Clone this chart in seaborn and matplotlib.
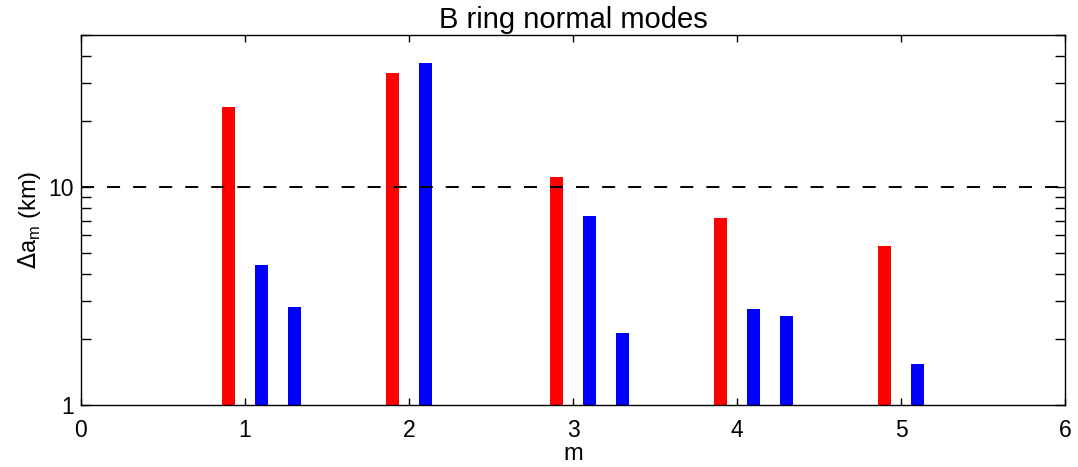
import pandas as pd
import seaborn as sns
import matplotlib.pyplot as plt
from matplotlib.ticker import LogLocator, FixedLocator, NullFormatter

# Mode positions and amplitudes
positions = [0.9, 1.1, 1.3, 1.9, 2.1, 2.9, 3.1, 3.3, 3.9, 4.1, 4.3, 4.9, 5.1]
amplitudes = [23.2, 4.37, 2.82, 33.3, 37.1, 11.1, 7.32, 2.14, 7.24, 2.77, 2.55, 5.38, 1.54]
kinds = ['red', 'blue', 'blue', 'red', 'blue', 'red', 'blue', 'blue',
         'red', 'blue', 'blue', 'red', 'blue']
x_ticks = [0, 1, 2, 3, 4, 5, 6]
y_ticks = [1, 10]

df = pd.DataFrame({'m': positions, 'da': amplitudes, 'kind': kinds})

sns.set_style('white')
plt.rcParams['font.family'] = ['Liberation Sans', 'DejaVu Sans']
plt.rcParams['text.color'] = 'black'
plt.rcParams['axes.labelcolor'] = 'black'

fig = plt.figure(figsize=(10.78, 4.67), dpi=100)
ax = fig.add_axes([0.0751, 0.1328, 0.9129, 0.7932])
ax.set_yscale('log')

sns.barplot(data=df, x='m', y='da', hue='kind', dodge=False, native_scale=True,
            palette={'red': '#ff0000', 'blue': '#0000ff'}, width=0.4,
            saturation=1, linewidth=0, legend=False, ax=ax)

# 10 km reference level
ax.axhline(10, color='black', linestyle=(0, (6.7, 6.7)), linewidth=1.4)

ax.set_xlim(0, 6)
ax.set_ylim(1, 50)
ax.xaxis.set_major_locator(FixedLocator(x_ticks))
ax.set_xticklabels([str(t) for t in x_ticks])
ax.yaxis.set_major_locator(FixedLocator(y_ticks))
ax.set_yticklabels([str(t) for t in y_ticks])
ax.yaxis.set_minor_locator(LogLocator(base=10, subs=range(2, 10)))
ax.yaxis.set_minor_formatter(NullFormatter())

ax.tick_params(axis='both', which='both', direction='in', top=True, right=True,
               left=True, bottom=True, labelsize=16.5, colors='black', width=1)
ax.tick_params(axis='x', which='major', length=5, pad=10)
ax.tick_params(axis='y', which='both', length=7.5, pad=5)
ax.tick_params(axis='x', which='minor', length=0)

for s in ax.spines.values():
    s.set_color('black')
    s.set_linewidth(1)

ax.set_title('B ring normal modes', fontsize=21, pad=5, color='black')
ax.set_xlabel('m', fontsize=17, labelpad=1)
ax.set_ylabel(r'$\Delta$a$_\mathregular{m}$ (km)', fontsize=17, labelpad=4)

fig.savefig('out.png', dpi=100)
